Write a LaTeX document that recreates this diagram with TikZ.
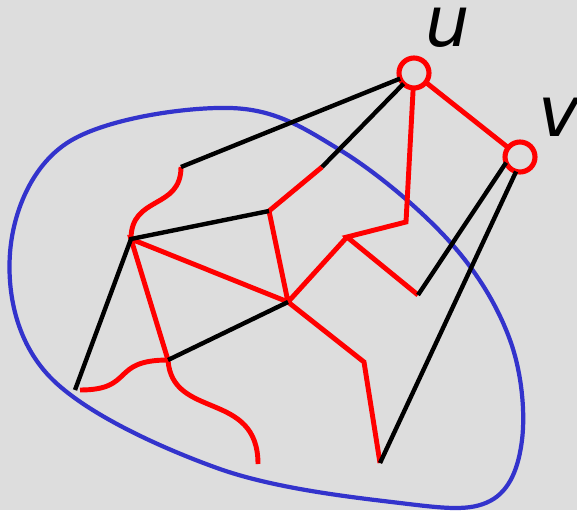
\documentclass[tikz,border=0pt]{standalone}
\usepackage{fontspec}
\usepackage{tikz}
\newfontfamily\lblfont{DejaVu Sans}
\definecolor{BgGray}{RGB}{221,221,221}
\definecolor{LoopBlue}{RGB}{51,51,204}
\definecolor{PathRed}{RGB}{255,0,0}
\begin{document}
\begin{tikzpicture}[
        x=0.02cm,y=-0.02cm,
        every node/.style={font=\lblfont\itshape\fontsize{40}{40}\selectfont,inner sep=0pt},
        vNode/.style={circle,draw=PathRed,line width=2.9pt,minimum size=0.6cm,inner sep=0pt,outer sep=0pt},
        rEdge/.style={draw=PathRed,line width=2.8pt},
        bEdge/.style={draw=black,line width=2.5pt},
        loopEdge/.style={draw=LoopBlue,line width=2.4pt}]
        \useasboundingbox (0,0) rectangle (577,510);
        \fill[BgGray] (0,0) rectangle (577,510);
        \draw[loopEdge] plot[smooth cycle,tension=0.6] coordinates {(230,108) (340,150) (450,242) (510,340) (522,440) (490,501) (400,503) (217,468) (50,377) (10,253) (67,143)};
        \node[vNode] (u) at (414,73) {};
        \node[vNode] (v) at (520,157) {};
        \node (ul) at (448,28) {u};
        \node (vl) at (559,117) {v};
        \coordinate (a) at (181,167);
        \coordinate (b) at (322,167);
        \coordinate (c) at (269,211);
        \coordinate (d) at (131,239);
        \coordinate (e) at (75,390);
        \coordinate (e2) at (80,390);
        \coordinate (f) at (288,302);
        \coordinate (g) at (168,360);
        \coordinate (h) at (258,464);
        \coordinate (i) at (406,222);
        \coordinate (j) at (347,237);
        \coordinate (k) at (418,295);
        \coordinate (l) at (364,362);
        \coordinate (m) at (380,463);
        \draw[rEdge] (u)--(v) (u)--(i)--(j)--(k) (j)--(f) (b)--(c)--(f)--(d)--(g) (f)--(l)--(m);
        \draw[rEdge] (a) .. controls (181,210) and (131,195) .. (d);
        \draw[rEdge] (g) .. controls (110,360) and (135,390) .. (e2);
        \draw[rEdge] (g) .. controls (172,420) and (258,390) .. (h);
        \draw[bEdge] (a)--(u) (b)--(u) (c)--(d)--(e) (f)--(g) (k)--(v.202) (m)--(v.255);
      \end{tikzpicture}
\end{document}
